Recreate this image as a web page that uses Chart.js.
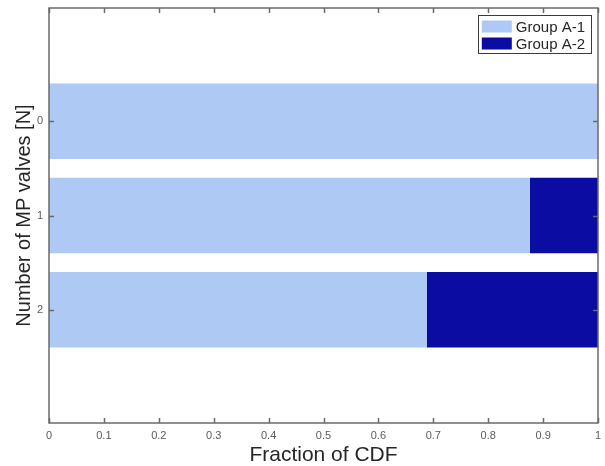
<!DOCTYPE html>
<html>
<head>
<meta charset="utf-8">
<script src="https://cdn.jsdelivr.net/npm/chart.js@4"></script>
<style>
  html, body { margin: 0; padding: 0; background: #fff; }
  #wrap { width: 605px; height: 466px; }
</style>
</head>
<body>
<div id="wrap"><canvas id="cdfchart"></canvas></div>
<script>
// Data block
const valveCounts = [0, 1, 2];
const groupA1 = [1.0, 0.876, 0.688];
const groupA2 = [0.0, 0.124, 0.312];
const seriesLabels = ['Group A-1', 'Group A-2'];
const seriesColors = ['#AEC9F3', '#0B0DA2'];
const xTickValues = [0, 0.1, 0.2, 0.3, 0.4, 0.5, 0.6, 0.7, 0.8, 0.9, 1];

const FONT = '"Liberation Sans", Arial, sans-serif';

// Drop the extra room Chart.js keeps for overflowing tick labels
function noLabelPadding(s) {
    s.paddingTop = 0; s.paddingBottom = 0;
    s.paddingLeft = 0; s.paddingRight = 0;
}

// Frame + inward ticks plugin block
const boxFrame = {
    id: 'boxFrame',
    afterDraw(chart) {
        const {ctx, chartArea: a, scales} = chart;
        const tl = 5;
        ctx.save();
        ctx.strokeStyle = '#6a6a6a';
        ctx.lineWidth = 1.5;
        ctx.beginPath();
        xTickValues.forEach(v => {
            const px = Math.round(scales.x.getPixelForValue(v)) + 0.5;
            ctx.moveTo(px, a.bottom); ctx.lineTo(px, a.bottom - tl);
            ctx.moveTo(px, a.top); ctx.lineTo(px, a.top + tl);
        });
        valveCounts.forEach(v => {
            const py = Math.round(scales.y.getPixelForValue(v)) + 0.5;
            ctx.moveTo(a.left, py); ctx.lineTo(a.left + tl, py);
            ctx.moveTo(a.right, py); ctx.lineTo(a.right - tl, py);
        });
        ctx.stroke();
        ctx.strokeRect(a.left, a.top, a.right - a.left, a.bottom - a.top);
        ctx.restore();
    }
};

// Legend inside the axes, top right
const boxLegend = {
    id: 'boxLegend',
    afterDraw(chart) {
        const {ctx, chartArea: a} = chart;
        const sets = chart.data.datasets;
        ctx.save();
        ctx.font = '15px ' + FONT;
        const textW = Math.max(...sets.map(d => ctx.measureText(d.label).width));
        const w = 4 + 30 + 4 + textW + 6;
        const h = 38;
        const right = a.right - 7;
        const left = right - w;
        const top = a.top + 7;
        ctx.fillStyle = '#fff';
        ctx.fillRect(left, top, w, h);
        ctx.strokeStyle = '#3a3a3a';
        ctx.lineWidth = 1;
        ctx.strokeRect(Math.round(left) + 0.5, top + 0.5, Math.round(w), h);
        ctx.textBaseline = 'middle';
        ctx.textAlign = 'left';
        sets.forEach((d, i) => {
            const cy = top + 11.5 + i * 17;
            ctx.fillStyle = d.backgroundColor;
            ctx.fillRect(left + 4, cy - 6, 30, 12);
            ctx.fillStyle = '#262626';
            ctx.fillText(d.label, left + 38, cy + 1);
        });
        ctx.restore();
    }
};

const cdfData = {
    datasets: [groupA1, groupA2].map((vals, k) => ({
        label: seriesLabels[k],
        data: valveCounts.map((n, i) => ({x: vals[i], y: n})),
        backgroundColor: seriesColors[k],
        borderWidth: 0,
        barPercentage: 0.8,
        categoryPercentage: 1.0
    }))
};

const cdfConfig = {
    type: 'bar',
    data: cdfData,
    options: {
        indexAxis: 'y',
        responsive: true,
        maintainAspectRatio: false,
        animation: false,
        layout: { padding: { top: 8, right: 7, left: 0, bottom: 0 } },
        plugins: {
            legend: { display: false },
            tooltip: { enabled: false }
        },
        scales: {
            x: {
                type: 'linear',
                stacked: true,
                min: 0,
                max: 1,
                offset: false,
                grid: { display: false, drawTicks: false },
                border: { display: false },
                afterBuildTicks: s => { s.ticks = xTickValues.map(v => ({value: v})); },
                afterFit: s => { s.height = 43; noLabelPadding(s); },
                ticks: {
                    padding: 6,
                    color: '#5a5a5a',
                    font: { family: FONT, size: 11 },
                    maxRotation: 0,
                    callback: v => String(v)
                },
                title: {
                    display: true,
                    text: 'Fraction of CDF',
                    color: '#262626',
                    font: { family: FONT, size: 21, lineHeight: 1.2 },
                    padding: { top: 0, bottom: -1.5 }
                }
            },
            y: {
                type: 'linear',
                stacked: true,
                reverse: true,
                min: -1.2,
                max: 3.2,
                offset: false,
                grid: { display: false, drawTicks: false, offset: false },
                border: { display: false },
                afterBuildTicks: s => { s.ticks = valveCounts.map(v => ({value: v})); },
                afterFit: s => { s.width = 49; noLabelPadding(s); },
                ticks: {
                    padding: 6,
                    color: '#5a5a5a',
                    font: { family: FONT, size: 11 },
                    callback: v => String(v)
                },
                title: {
                    display: true,
                    text: 'Number of MP valves [N]',
                    color: '#262626',
                    font: { family: FONT, size: 20, lineHeight: 1.2 },
                    padding: { top: 12, bottom: 0 }
                }
            }
        }
    },
    plugins: [boxFrame, boxLegend]
};

const cdfChart = new Chart(document.getElementById('cdfchart'), cdfConfig);
</script>
</body>
</html>
